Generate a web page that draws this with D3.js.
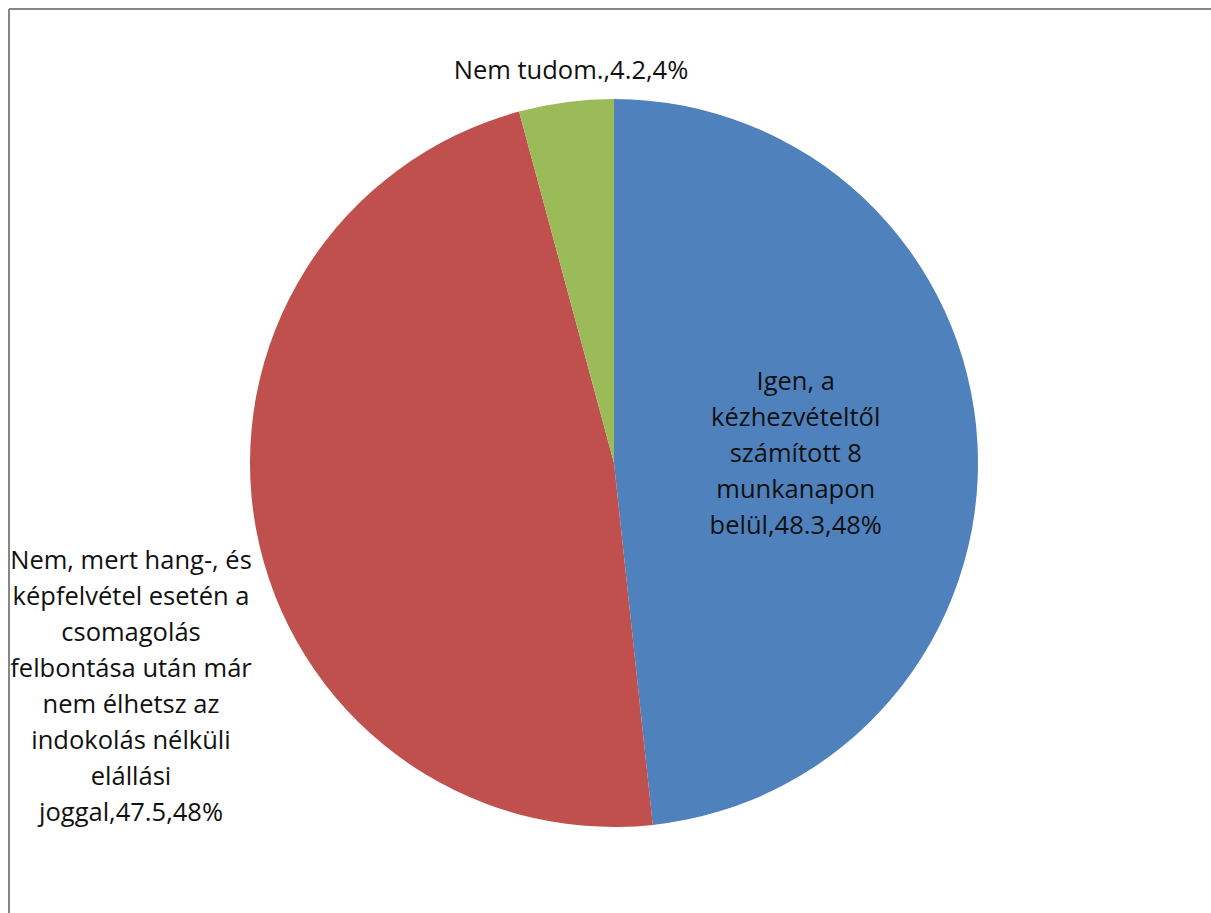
<!DOCTYPE html>
<html lang="hu">
	<head>
		<meta charset="utf-8">
		<title>Pie</title>
		<script type="text/javascript" src="https://cdn.jsdelivr.net/npm/d3@7"></script>
		<style>
			body { margin: 0; background: #fff; }
			svg { display: block; }
			.lbl { font-family: "Open Sans", "Noto Sans", sans-serif; font-size: 25.5px; fill: #111; }
		</style>
	</head>
	<body>
			<div id="chart"></div>
			<script type="text/javascript">

var w = 1211, h = 913;

// data
var categories = ["Igen, a kézhezvételtől számított 8 munkanapon belül",
                  "Nem, mert hang-, és képfelvétel esetén a csomagolás felbontása után már nem élhetsz az indokolás nélküli elállási joggal",
                  "Nem tudom."];
var values = [48.3, 47.5, 4.2];
var percentLabels = ["48%", "48%", "4%"];
var colors = ["#4f81bd", "#c0504d", "#9bbb59"];

// label lines as Excel wrapped them
var labelLines = [
	["Igen, a", "kézhezvételtől", "számított 8", "munkanapon", "belül,48.3,48%"],
	["Nem, mert hang-, és", "képfelvétel esetén a", "csomagolás", "felbontása után már", "nem élhetsz az", "indokolás nélküli", "elállási", "joggal,47.5,48%"],
	["Nem tudom.,4.2,4%"]
];

var cx = 614, cy = 463, r = 364;

var svg = d3.select("#chart")
      .append("svg")
      .attr("width", w)
      .attr("height", h);

// chart area border (top and left visible)
svg.append("line").attr("x1", 9).attr("y1", 9).attr("x2", w).attr("y2", 9)
   .attr("stroke", "#868686").attr("stroke-width", 2);
svg.append("line").attr("x1", 9).attr("y1", 9).attr("x2", 9).attr("y2", h)
   .attr("stroke", "#868686").attr("stroke-width", 2);

var pie = d3.pie().sort(null).value(function(d) { return d; });
var arc = d3.arc().innerRadius(0).outerRadius(r);
var arcs = pie(values);

var g = svg.append("g").attr("transform", "translate(" + cx + "," + cy + ")");

g.selectAll("path")
	.data(arcs)
	.enter()
	.append("path")
	.attr("d", arc)
	.attr("fill", function(d, i) { return colors[i]; });

// label centres, relative to pie centre
var labelPos = [
	arc.centroid(arcs[0]),
	[-483, 223],
	[-43, -393]
];
var lineH = 36;

labelLines.forEach(function(lines, i) {
	var p = labelPos[i];
	var t = g.append("text")
		.attr("class", "lbl")
		.attr("text-anchor", "middle");
	var y0 = p[1] - (lines.length - 1) * lineH / 2;
	lines.forEach(function(s, j) {
		t.append("tspan")
			.attr("x", p[0])
			.attr("y", y0 + j * lineH)
			.attr("dy", "0.35em")
			.text(s);
	});
});

		</script>
	</body>
</html>
